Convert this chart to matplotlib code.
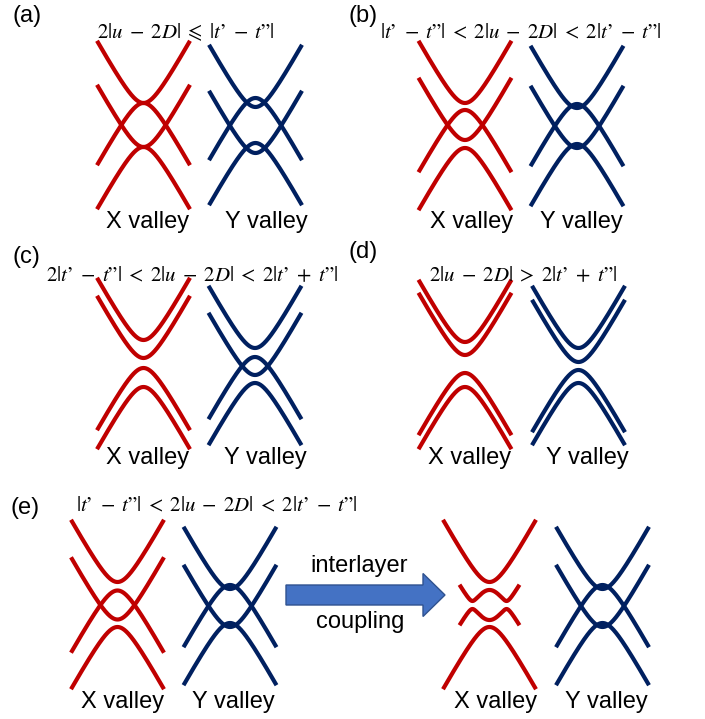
import numpy as np
import matplotlib
matplotlib.use("Agg")
import matplotlib.pyplot as plt
from matplotlib.patches import FancyArrow

plt.rcParams["font.family"] = ["Liberation Sans", "DejaVu Sans"]
plt.rcParams["mathtext.fontset"] = "stix"

RED = "#C00000"
NAVY = "#002060"

# ---- content -------------------------------------------------------------
panel_labels = ["(a)", "(b)", "(c)", "(d)", "(e)"]
conditions = [
    r"$2|u\;-\;2D|\;\leqslant\;|t’\;-\;t”|$",
    r"$|t’\;-\;t”|\;<\;2|u\;-\;2D|\;<\;2|t’\;-\;t”|$",
    r"$2|t’\;-\;t”|\;<\;2|u\;-\;2D|\;<\;2|t’\;+\;t”|$",
    r"$2|u\;-\;2D|\;>\;2|t’\;+\;t”|$",
    r"$|t’\;-\;t”|\;<\;2|u\;-\;2D|\;<\;2|t’\;-\;t”|$",
]
valley_names = ["X valley", "Y valley"]

# Band-edge energies (relative to the row centre) of the two upward-opening
# (conduction-like) and two downward-opening (valence-like) subbands.
x_cb = [[22, -22], [22, -15], [25, 7], [23, 10], [23, -14.5]]
x_vb = [[22, -22], [15, -23], [-3, -22], [-8, -22], [14.5, -22]]
y_cb = [[18, -28], [17, -23], [17, -10], [17, 3], [16, -22]]
y_vb = [[27, -18], [21, -19], [8, -18], [-5, -18], [20, -18]]

# interlayer hybridisation of the crossing X-valley subbands in (e)
coupling = 4.0
arrow_text = ["interlayer", "coupling"]

# ---- layout (pixel coordinates) -----------------------------------------
W, H = 705, 719
HALF = 46.5           # half width of each band diagram
ROUND = 14.0          # rounding of the band bottom
SLOPE = 1.8           # asymptotic band slope
MID_HALF = 30.0       # half width of hybridised subbands

row_y = [125, 125, 365, 365, 605]
x_centres = [(143.5, 255.5), (465, 577), (143.5, 255), (465, 578.5), (117.5, 230)]
label_pos = [(13, 16), (349, 16), (13, 257), (348, 252), (10, 508)]
cond_pos = [(186, 32), (521, 33), (192, 275), (523, 275), (217, 506)]
valley_label_x = [(148, 266), (472, 581), (148, 265), (470, 587), (123, 233)]
valley_label_y = [222, 222, 458, 458, 702]
right_centres = (489.5, 602.5)
right_label_x = (496, 606)

LW = 3.0


def disp(k):
    return SLOPE * (np.sqrt(ROUND ** 2 + k ** 2) - ROUND)


def draw_valley(ax, xc, yc, cb, vb, color, hybrid=0.0):
    k = np.linspace(-HALF, HALF, 300)
    kw = dict(color=color, lw=LW, solid_capstyle="butt", solid_joinstyle="round")
    if hybrid == 0.0:
        for e0 in cb:
            ax.plot(xc + k, yc - (e0 + disp(k)), **kw)
        for e0 in vb:
            ax.plot(xc + k, yc - (e0 - disp(k)), **kw)
        return
    # outer subbands stay untouched
    ax.plot(xc + k, yc - (max(cb) + disp(k)), **kw)
    ax.plot(xc + k, yc - (min(vb) - disp(k)), **kw)
    # inner pair anticrosses
    km = np.linspace(-MID_HALF, MID_HALF, 300)
    a = max(vb) - disp(km)
    b = min(cb) + disp(km)
    mean = 0.5 * (a + b)
    split = np.sqrt((0.5 * (a - b)) ** 2 + hybrid ** 2)
    ax.plot(xc + km, yc - (mean + split), **kw)
    ax.plot(xc + km, yc - (mean - split), **kw)


fig = plt.figure(figsize=(W / 100, H / 100), dpi=100)
ax = fig.add_axes([0, 0, 1, 1])
ax.set_xlim(0, W)
ax.set_ylim(H, 0)
ax.axis("off")

for i in range(5):
    xX, xY = x_centres[i]
    yc = row_y[i]
    draw_valley(ax, xX, yc, x_cb[i], x_vb[i], RED)
    draw_valley(ax, xY, yc, y_cb[i], y_vb[i], NAVY)
    ax.text(*label_pos[i], panel_labels[i], fontsize=17, ha="left", va="center")
    ax.text(*cond_pos[i], conditions[i], fontsize=15, ha="center", va="center")
    for lx, name in zip(valley_label_x[i], valley_names):
        ax.text(lx, valley_label_y[i], name, fontsize=17, ha="center", va="center")

# coupled bilayer in (e)
draw_valley(ax, right_centres[0], row_y[4], x_cb[4], x_vb[4], RED, hybrid=coupling)
draw_valley(ax, right_centres[1], row_y[4], y_cb[4], y_vb[4], NAVY)
for lx, name in zip(right_label_x, valley_names):
    ax.text(lx, valley_label_y[4], name, fontsize=17, ha="center", va="center")

ax.add_patch(FancyArrow(286, 595, 159, 0, width=20, head_width=43, head_length=22,
                        length_includes_head=True, facecolor="#4472C4",
                        edgecolor="#2F528F", lw=1))
ax.text(359, 566, arrow_text[0], fontsize=17, ha="center", va="center")
ax.text(360, 622, arrow_text[1], fontsize=17, ha="center", va="center")

fig.savefig("out.png", dpi=100)
